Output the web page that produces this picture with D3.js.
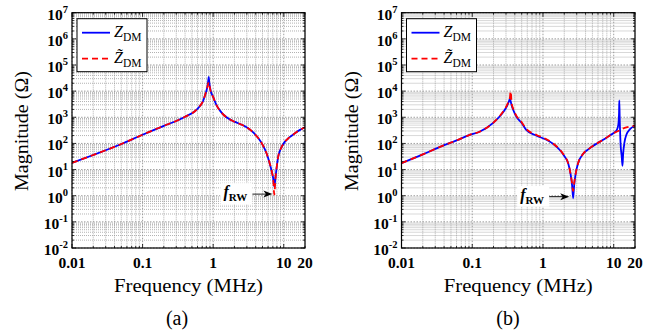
<!DOCTYPE html>
<html>
<head>
<meta charset="utf-8">
<script src="https://cdn.jsdelivr.net/npm/d3@7"></script>
<style>
    body { margin: 0; background: #fff; }
    svg { display: block; }
</style>
</head>
<body>
<script>
(function () {

    //panel (a) data, frequency in MHz, magnitude in ohm
    var freqA = [0.01, 0.02, 0.05, 0.1, 0.2, 0.3, 0.4, 0.55, 0.65, 0.72, 0.77, 0.82, 0.85, 0.865, 0.88, 0.92, 1.0, 1.06, 1.15, 1.25,
        1.4, 1.64, 2.0, 2.82, 3.5, 4.35, 5.0, 5.7, 6.3, 6.8, 7.1, 7.35, 7.6, 7.9, 8.36, 9.0, 10.4, 12, 14.4, 17, 20];
    var zA = [18, 36, 95, 215, 470, 720, 1050, 1700, 2700, 4200, 7200, 13000, 24000, 35000, 22000, 10500, 6000, 4000, 2500, 1800,
        1250, 900, 680, 450, 300, 160, 90, 42, 18, 8, 4.5, 2.2, 4.5, 11, 32, 60, 117, 170, 245, 330, 415];
    var ztA = [18, 36, 95, 215, 470, 720, 1050, 1700, 2700, 4200, 7200, 13000, 19000, 22000, 18000, 10000, 6000, 4000, 2500, 1800,
        1250, 900, 680, 450, 300, 160, 90, 42, 18, 8, 4, 1.1, 4, 11, 32, 60, 117, 170, 245, 330, 415];

    //panel (b) data
    var freqB = [0.01, 0.02, 0.038, 0.06, 0.092, 0.127, 0.196, 0.244, 0.28, 0.31, 0.33, 0.34, 0.35, 0.36, 0.38, 0.42, 0.5, 0.58, 0.8, 1.12,
        1.4, 1.73, 2.0, 2.27, 2.45, 2.58, 2.67, 2.76, 2.9, 3.14, 3.7, 4.6, 5.8, 7.1, 8.5, 9.85, 11.0, 11.6, 11.9, 12.0,
        12.15, 12.5, 13.0, 13.3, 13.6, 14.2, 15.1, 17, 20];
    var zB = [17.6, 38, 81, 130, 213, 280, 600, 1070, 1700, 2700, 4000, 5000, 4000, 2900, 1900, 1070, 600, 330, 200, 138,
        95, 56, 33, 17.6, 7, 2.5, 0.8, 2.5, 7, 17.6, 40, 66, 100, 138, 190, 245, 320, 500, 1500, 4400,
        1000, 100, 30, 14, 40, 110, 213, 350, 470];
    var ztB = [17.6, 38, 81, 130, 213, 280, 600, 1100, 1800, 2900, 4300, 5500, 9800, 3500, 2100, 1150, 650, 360, 215, 145,
        98, 58, 34, 17.6, 7, 3, 1.5, 3, 7, 17.6, 40, 66, 100, 138, 190, 245, 280, 300, 310, 320,
        330, 340, 355, 365, 375, 390, 410, 440, 480];

    //axis ticks
    var xTickValues = [0.01, 0.1, 1, 10, 20];
    var xTickLabels = ["0.01", "0.1", "1", "10", "20"];
    var yTickExponents = [-2, -1, 0, 1, 2, 3, 4, 5, 6, 7];

    //f_RW annotation arrow tips [freq, magnitude]
    var rwTipA = [6.9, 1.15];
    var rwTipB = [2.35, 0.92];

    var serif = "'Liberation Serif', 'Times New Roman', Times, serif";

    var width = 658,
        height = 335;

    var svg = d3.select("body")
        .append("svg")
        .attr("width", width)
        .attr("height", height)
        .attr("font-family", serif);

    var defs = svg.append("defs");

    drawPanel({ id: "a", left: 72, right: 305, top: 12.7, bottom: 248, freq: freqA, z: zA, zt: ztA, tip: rwTipA, caption: "(a)", captionX: 177 });
    drawPanel({ id: "b", left: 401.5, right: 635, top: 12.7, bottom: 248, freq: freqB, z: zB, zt: ztB, tip: rwTipB, caption: "(b)", captionX: 508 });

    function drawPanel(p) {
        var x = d3.scaleLog().domain([0.01, 20]).range([p.left, p.right]);
        var y = d3.scaleLog().domain([1e-2, 1e7]).range([p.bottom, p.top]);

        var g = svg.append("g").attr("class", "panel-" + p.id);

        defs.append("clipPath")
            .attr("id", "clip-" + p.id)
            .append("rect")
            .attr("x", p.left).attr("y", p.top)
            .attr("width", p.right - p.left).attr("height", p.bottom - p.top);

        //grid: minor first then major
        var isMajor = function (v) { return Math.abs(Math.log10(v) - Math.round(Math.log10(v))) < 1e-6; };
        var xt = x.ticks(), yt = y.ticks();

        var grid = g.append("g").attr("class", "grid");
        grid.selectAll(".xminor")
            .data(xt.filter(function (d) { return !isMajor(d); }))
            .enter().append("line")
            .attr("x1", function (d) { return x(d); }).attr("x2", function (d) { return x(d); })
            .attr("y1", p.top).attr("y2", p.bottom)
            .attr("stroke", "#909090").attr("stroke-width", 0.7).attr("stroke-dasharray", "1,1");
        grid.selectAll(".yminor")
            .data(yt.filter(function (d) { return !isMajor(d); }))
            .enter().append("line")
            .attr("y1", function (d) { return y(d); }).attr("y2", function (d) { return y(d); })
            .attr("x1", p.left).attr("x2", p.right)
            .attr("stroke", "#909090").attr("stroke-width", 0.7).attr("stroke-dasharray", "1,1");
        grid.selectAll(".xmajor")
            .data(xt.filter(isMajor))
            .enter().append("line")
            .attr("x1", function (d) { return x(d); }).attr("x2", function (d) { return x(d); })
            .attr("y1", p.top).attr("y2", p.bottom)
            .attr("stroke", "#888").attr("stroke-width", 0.8).attr("stroke-dasharray", "1.5,1.5");
        grid.selectAll(".ymajor")
            .data(yt.filter(isMajor))
            .enter().append("line")
            .attr("y1", function (d) { return y(d); }).attr("y2", function (d) { return y(d); })
            .attr("x1", p.left).attr("x2", p.right)
            .attr("stroke", "#888").attr("stroke-width", 0.8).attr("stroke-dasharray", "1.5,1.5");

        //curves
        var blueData = p.freq.map(function (f, i) { return { f: f, m: p.z[i] }; });
        var redData = p.freq.map(function (f, i) { return { f: f, m: p.zt[i] }; });
        var line = d3.line()
            .x(function (d) { return x(d.f); })
            .y(function (d) { return y(d.m); })
            .curve(d3.curveMonotoneX);

        var curves = g.append("g").attr("clip-path", "url(#clip-" + p.id + ")");
        curves.append("path")
            .datum(blueData)
            .attr("d", line)
            .attr("fill", "none")
            .attr("stroke", "#0000ff")
            .attr("stroke-width", 1.8);
        curves.append("path")
            .datum(redData)
            .attr("d", line)
            .attr("fill", "none")
            .attr("stroke", "#ff0000")
            .attr("stroke-width", 1.8)
            .attr("stroke-dasharray", "6,4");

        //ticks on all four sides, pointing in
        var ticks = g.append("g").attr("stroke", "#000").attr("stroke-width", 0.8);
        xt.forEach(function (d) {
            var len = isMajor(d) ? 4 : 2;
            ticks.append("line").attr("x1", x(d)).attr("x2", x(d)).attr("y1", p.bottom).attr("y2", p.bottom - len);
            ticks.append("line").attr("x1", x(d)).attr("x2", x(d)).attr("y1", p.top).attr("y2", p.top + len);
        });
        yt.forEach(function (d) {
            var len = isMajor(d) ? 4 : 2;
            ticks.append("line").attr("y1", y(d)).attr("y2", y(d)).attr("x1", p.left).attr("x2", p.left + len);
            ticks.append("line").attr("y1", y(d)).attr("y2", y(d)).attr("x1", p.right).attr("x2", p.right - len);
        });

        //box
        g.append("rect")
            .attr("x", p.left).attr("y", p.top)
            .attr("width", p.right - p.left).attr("height", p.bottom - p.top)
            .attr("fill", "none").attr("stroke", "#000").attr("stroke-width", 1.2);

        //x tick labels
        g.selectAll(".xlab")
            .data(xTickValues)
            .enter().append("text")
            .attr("font-family", serif)
            .attr("font-weight", "bold")
            .attr("font-size", "15.5px")
            .attr("x", function (d) { return x(d); })
            .attr("y", p.bottom + 20)
            .attr("text-anchor", "middle")
            .text(function (d, i) { return xTickLabels[i]; });

        //y tick labels 10^n
        var ylab = g.selectAll(".ylab")
            .data(yTickExponents)
            .enter().append("text")
            .attr("font-family", serif)
            .attr("font-weight", "bold")
            .attr("font-size", "15.5px")
            .attr("x", p.left - 4)
            .attr("y", function (d) { return y(Math.pow(10, d)) + 7; })
            .attr("text-anchor", "end");
        ylab.append("tspan").text("10");
        ylab.append("tspan")
            .attr("dy", -7)
            .attr("font-size", "10.5px")
            .text(function (d) { return d; });

        //axis titles
        var cx = (p.left + p.right) / 2;
        g.append("text")
            .attr("font-family", serif)
            .attr("font-size", "18px")
            .attr("x", cx)
            .attr("y", p.bottom + 44)
            .attr("text-anchor", "middle")
            .attr("textLength", 149)
            .attr("lengthAdjust", "spacingAndGlyphs")
            .text("Frequency (MHz)");
        g.append("text")
            .attr("font-family", serif)
            .attr("font-size", "18px")
            .attr("transform", "translate(" + (p.left - 44) + "," + 131 + ") rotate(-90)")
            .attr("text-anchor", "middle")
            .attr("textLength", 120)
            .attr("lengthAdjust", "spacingAndGlyphs")
            .text("Magnitude (\u03A9)");
        g.append("text")
            .attr("font-family", serif)
            .attr("font-size", "20px")
            .attr("x", p.captionX)
            .attr("y", 325)
            .attr("text-anchor", "middle")
            .text(p.caption);

        setLegend(g, p.left, p.top);
        setAnnotation(g, x(p.tip[0]), y(p.tip[1]));
    }

    function setLegend(g, left, top) {
        var lg = g.append("g").attr("transform", "translate(" + (left + 5) + "," + (top + 6) + ")");
        lg.append("rect")
            .attr("width", 70).attr("height", 53)
            .attr("fill", "#fff").attr("stroke", "#000").attr("stroke-width", 1);
        var rows = [{ color: "#0000ff", dash: null, tilde: false, yy: 14 }, { color: "#ff0000", dash: "6,4", tilde: true, yy: 40 }];
        rows.forEach(function (r) {
            lg.append("line")
                .attr("x1", 5).attr("x2", 33).attr("y1", r.yy).attr("y2", r.yy)
                .attr("stroke", r.color).attr("stroke-width", 1.8)
                .attr("stroke-dasharray", r.dash);
            var t = lg.append("text").attr("font-family", serif).attr("x", 37).attr("y", r.yy + 4);
            t.append("tspan").attr("font-style", "italic").attr("font-size", "16px").text(r.tilde ? "Z\u0303" : "Z");
            t.append("tspan").attr("dy", 4).attr("font-size", "11.5px").text("DM");
        });
    }

    function setAnnotation(g, tx, ty) {
        var a = g.append("g");
        a.append("rect")
            .attr("x", tx - 52).attr("y", ty - 11)
            .attr("width", 32).attr("height", 21)
            .attr("fill", "#fff");
        var t = a.append("text").attr("font-family", serif).attr("x", tx - 49).attr("y", ty + 3);
        t.append("tspan").attr("font-style", "italic").attr("font-weight", "bold").attr("font-size", "16px").text("f");
        t.append("tspan").attr("dy", 4).attr("font-weight", "bold").attr("font-size", "11px").text("RW");
        a.append("line")
            .attr("x1", tx - 20).attr("x2", tx - 6).attr("y1", ty).attr("y2", ty)
            .attr("stroke", "#000").attr("stroke-width", 0.9);
        a.append("path")
            .attr("d", "M" + tx + "," + ty + " L" + (tx - 9) + "," + (ty - 3.5) + " L" + (tx - 6.5) + "," + ty + " L" + (tx - 9) + "," + (ty + 3.5) + " Z")
            .attr("fill", "#000");
    }

})();
</script>
</body>
</html>
